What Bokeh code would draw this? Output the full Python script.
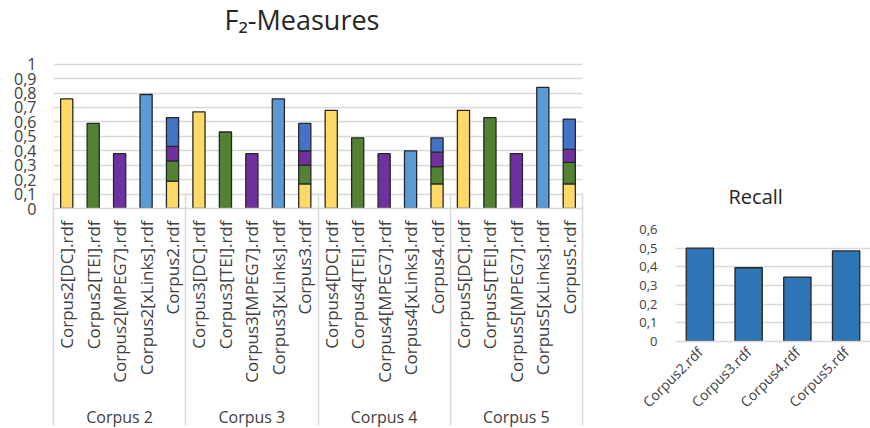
import math
from bokeh.plotting import figure
from bokeh.models import FactorRange, Range1d, FixedTicker, LinearAxis, ColumnDataSource
from bokeh.core.properties import value
from bokeh.layouts import row, column
from bokeh.embed import file_html
from bokeh.resources import INLINE

# ---------------- data ----------------
corpus_ids = ["2", "3", "4", "5"]
group_labels = ["Corpus 2", "Corpus 3", "Corpus 4", "Corpus 5"]

dc_vals = [0.76, 0.67, 0.68, 0.68]
tei_vals = [0.59, 0.53, 0.49, 0.63]
mpeg7_vals = [0.38, 0.38, 0.38, 0.38]
xlinks_vals = [0.79, 0.76, 0.40, 0.84]

# stacked combined bar segments (Corpus2.rdf ... Corpus5.rdf)
stack_dc = [0.19, 0.17, 0.17, 0.17]
stack_tei = [0.14, 0.13, 0.12, 0.15]
stack_mpeg7 = [0.10, 0.10, 0.10, 0.09]
stack_xlinks = [0.20, 0.19, 0.10, 0.21]

y_ticks = [0, 0.1, 0.2, 0.3, 0.4, 0.5, 0.6, 0.7, 0.8, 0.9, 1]
y_tick_labels = ["0", "0,1", "0,2", "0,3", "0,4", "0,5", "0,6", "0,7", "0,8", "0,9", "1"]

recall_cats = ["Corpus2.rdf", "Corpus3.rdf", "Corpus4.rdf", "Corpus5.rdf"]
recall_vals = [0.50, 0.395, 0.345, 0.485]
recall_ticks = [0, 0.1, 0.2, 0.3, 0.4, 0.5, 0.6]
recall_tick_labels = ["0", "0,1", "0,2", "0,3", "0,4", "0,5", "0,6"]

title_main = "F\u2082-Measures"
title_recall = "Recall"

# ---------------- style ----------------
FONT = "Open Sans"
TXT = "#404040"
GRID = "#D9D9D9"
EDGE = "#262626"
C_DC, C_TEI, C_MPEG7, C_XL, C_TOP = "#FFD966", "#548235", "#7030A0", "#5B9BD5", "#4472C4"

dc_f = [f"Corpus{c}[DC].rdf" for c in corpus_ids]
tei_f = [f"Corpus{c}[TEI].rdf" for c in corpus_ids]
mp_f = [f"Corpus{c}[MPEG7].rdf" for c in corpus_ids]
xl_f = [f"Corpus{c}[xLinks].rdf" for c in corpus_ids]
st_f = [f"Corpus{c}.rdf" for c in corpus_ids]
factors = []
for i in range(len(corpus_ids)):
    factors += [dc_f[i], tei_f[i], mp_f[i], xl_f[i], st_f[i]]

# frame spans the full top area; value 1 sits 64px below the top of the frame (208px tall)
FRAME_H = 208
PX_PER_UNIT = 144.3
Y_END = FRAME_H / PX_PER_UNIT

p1 = figure(frame_width=529, frame_height=FRAME_H, title=None,
            x_range=FactorRange(*factors, range_padding=0, factor_padding=0),
            y_range=Range1d(0, Y_END),
            output_backend="svg", toolbar_location=None,
            min_border_left=53, min_border_right=18, min_border_top=0, min_border_bottom=220)
p1.outline_line_color = None
p1.xgrid.visible = False
p1.ygrid.ticker = FixedTicker(ticks=y_ticks)
p1.ygrid.grid_line_color = GRID
p1.ygrid.grid_line_width = 1.5

BW = 0.46
p1.vbar(x=dc_f, top=dc_vals, width=BW, fill_color=C_DC, line_color=EDGE, line_width=1.3)
p1.vbar(x=tei_f, top=tei_vals, width=BW, fill_color=C_TEI, line_color=EDGE, line_width=1.3)
p1.vbar(x=mp_f, top=mpeg7_vals, width=BW, fill_color=C_MPEG7, line_color=EDGE, line_width=1.3)
p1.vbar(x=xl_f, top=xlinks_vals, width=BW, fill_color=C_XL, line_color=EDGE, line_width=1.3)
src = ColumnDataSource(dict(x=st_f, s_dc=stack_dc, s_tei=stack_tei, s_mp=stack_mpeg7, s_xl=stack_xlinks))
p1.vbar_stack(["s_dc", "s_tei", "s_mp", "s_xl"], x="x", width=BW, source=src,
              fill_color=[C_DC, C_TEI, C_MPEG7, C_TOP], line_color=EDGE, line_width=1.3)

# chart title, placed in the top strip of the frame
p1.text(x=[len(factors) / 2], y=[Y_END], text=[title_main],
        text_font=value(FONT), text_font_size="27px", text_color="#262626",
        text_align="center", text_baseline="alphabetic", x_offset=-16, y_offset=19)

ya = p1.yaxis[0]
ya.ticker = FixedTicker(ticks=y_ticks)
ya.major_label_overrides = {t: l for t, l in zip(y_ticks, y_tick_labels)}
ya.axis_line_color = None
ya.major_tick_line_color = None
ya.minor_tick_line_color = None
ya.major_tick_out = 0
ya.major_label_standoff = 17
ya.major_label_text_font = FONT
ya.major_label_text_font_size = "16px"
ya.major_label_text_color = TXT

xa = p1.xaxis[0]
xa.major_label_orientation = math.pi / 2
xa.axis_line_color = GRID
xa.axis_line_width = 1.5
xa.major_tick_line_color = None
xa.major_tick_out = 0
xa.major_tick_in = 0
xa.major_label_standoff = 12
xa.major_label_text_font = FONT
xa.major_label_text_font_size = "17px"
xa.major_label_text_color = TXT

n_per = 5
group_centers = [n_per * i + n_per / 2 for i in range(len(group_labels))]
group_edges = [n_per * i for i in range(len(group_labels) + 1)]
ga = LinearAxis(ticker=FixedTicker(ticks=group_centers, minor_ticks=group_edges))
ga.major_label_overrides = {c: g for c, g in zip(group_centers, group_labels)}
ga.axis_line_color = None
ga.major_tick_line_color = None
ga.major_tick_out = 0
ga.major_tick_in = 0
ga.minor_tick_line_color = GRID
ga.minor_tick_line_width = 1.5
ga.minor_tick_in = 192
ga.minor_tick_out = 40
ga.major_label_standoff = -20
ga.major_label_text_font = FONT
ga.major_label_text_font_size = "16px"
ga.major_label_text_color = TXT
p1.add_layout(ga, "below")

# ---------------- Recall chart ----------------
p2 = figure(frame_width=195, frame_height=112,
            x_range=FactorRange(*recall_cats, range_padding=0, factor_padding=0),
            y_range=Range1d(0, 0.6),
            output_backend="svg", toolbar_location=None,
            min_border_left=75, min_border_right=0, min_border_top=229, min_border_bottom=87)
p2.outline_line_color = None
p2.xgrid.visible = False
p2.ygrid.ticker = FixedTicker(ticks=recall_ticks)
p2.ygrid.grid_line_color = GRID
p2.ygrid.grid_line_width = 1.5
p2.title.text = title_recall
p2.title.text_font = FONT
p2.title.text_font_size = "20px"
p2.title.text_font_style = "normal"
p2.title.text_color = "#262626"
p2.title.align = "left"
p2.title.offset = 53
p2.title.standoff = 40

p2.vbar(x=recall_cats, top=recall_vals, width=0.56, fill_color="#2E75B6", line_color=EDGE, line_width=1.3)

ya2 = p2.yaxis[0]
ya2.ticker = FixedTicker(ticks=recall_ticks)
ya2.major_label_overrides = {t: l for t, l in zip(recall_ticks, recall_tick_labels)}
ya2.axis_line_color = None
ya2.major_tick_line_color = None
ya2.minor_tick_line_color = None
ya2.major_tick_out = 0
ya2.major_label_standoff = 18
ya2.major_label_text_font = FONT
ya2.major_label_text_font_size = "13px"
ya2.major_label_text_color = TXT

xa2 = p2.xaxis[0]
xa2.major_label_orientation = math.pi / 4
xa2.axis_line_color = GRID
xa2.axis_line_width = 1.5
xa2.major_tick_line_color = None
xa2.major_tick_out = 0
xa2.major_tick_in = 0
xa2.major_label_standoff = 8
xa2.major_label_text_font = FONT
xa2.major_label_text_font_size = "14px"
xa2.major_label_text_color = TXT

layout = row(column(p1), column(p2))
open("out.html", "w").write(file_html(layout, INLINE))
